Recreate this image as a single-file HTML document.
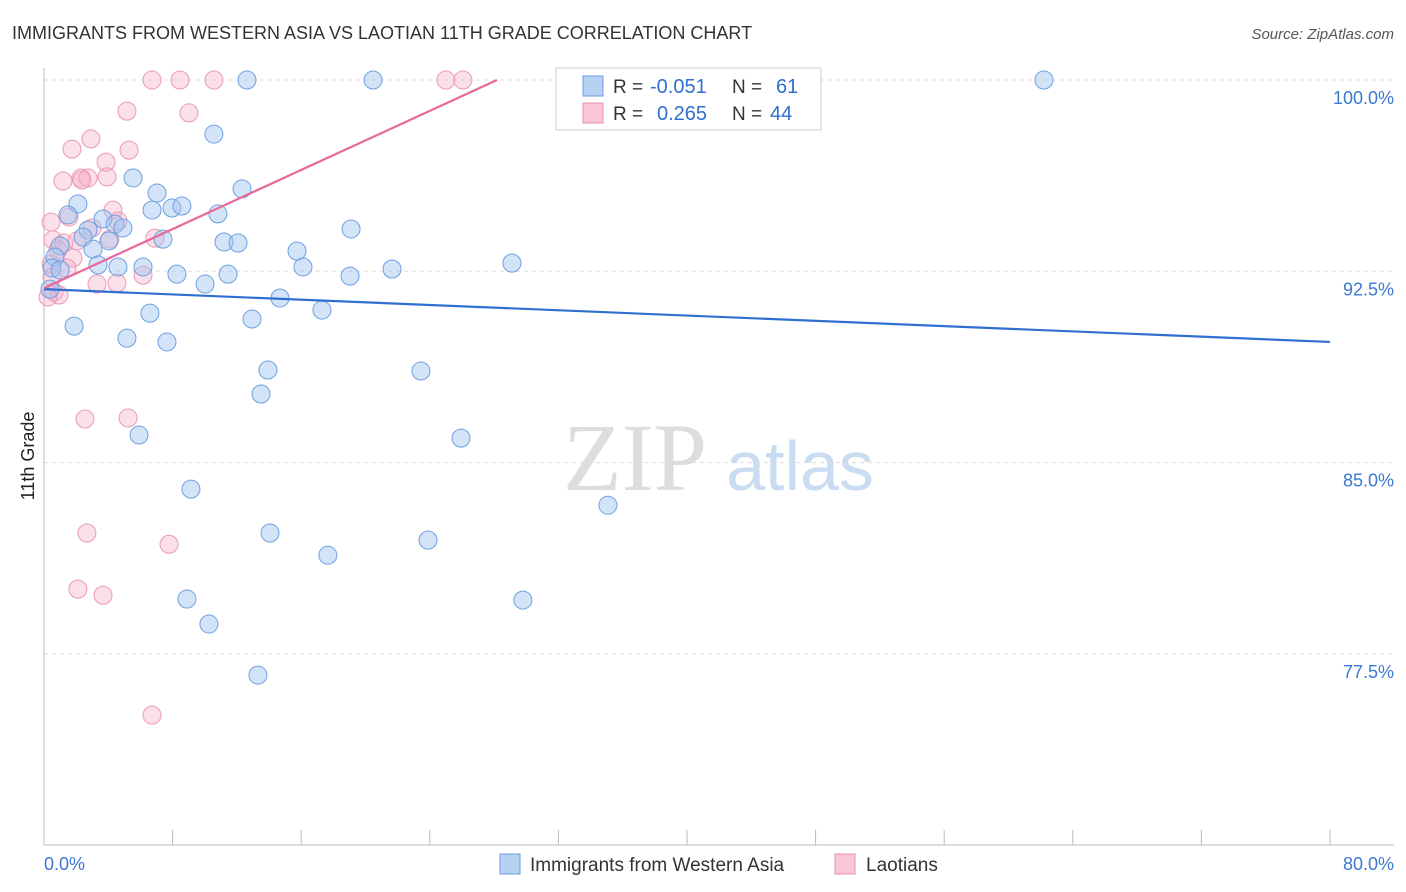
<!DOCTYPE html>
<html><head><meta charset="utf-8"><style>
body{margin:0;background:#fff;width:1406px;height:892px;overflow:hidden;font-family:"Liberation Sans",sans-serif}
svg{display:block}
</style></head><body>
<svg id="chart" width="1406" height="892">
<text x="12" y="39" font-size="18" fill="#333">IMMIGRANTS FROM WESTERN ASIA VS LAOTIAN 11TH GRADE CORRELATION CHART</text>
<text x="1394" y="39" font-size="15" fill="#555" font-style="italic" text-anchor="end">Source: ZipAtlas.com</text>
<text x="34" y="456" font-size="18" fill="#222" transform="rotate(-90 34 456)" text-anchor="middle">11th Grade</text>
<g>
<text x="635" y="490" font-size="96" font-family="Liberation Serif,serif" fill="#ddd" text-anchor="middle">ZIP</text>
<text x="800" y="490" font-size="70" fill="#c9dcf2" text-anchor="middle">atlas</text>
</g>
<g id="grid"></g><g id="axes"></g><g id="pts"></g><g id="trend"></g>
<g>
<rect x="556" y="68" width="265" height="62" fill="#fff" stroke="#ccc"/>
<rect x="583" y="76" width="20" height="20" fill="#b7d1f3" stroke="#6a9be0"/>
<rect x="583" y="103" width="20" height="20" fill="#f8c6d6" stroke="#e890ad"/>
<text x="613" y="93" font-size="19" fill="#333">R =</text>
<text x="650" y="93" font-size="20" fill="#2f6fd0">-0.051</text>
<text x="732" y="93" font-size="19" fill="#333">N =</text>
<text x="776" y="93" font-size="20" fill="#2f6fd0">61</text>
<text x="613" y="120" font-size="19" fill="#333">R =</text>
<text x="657" y="120" font-size="20" fill="#2f6fd0">0.265</text>
<text x="732" y="120" font-size="19" fill="#333">N =</text>
<text x="770" y="120" font-size="20" fill="#2f6fd0">44</text>
</g>
<g>
<rect x="500" y="854" width="20" height="20" fill="#b7d1f3" stroke="#6a9be0"/>
<text x="530" y="871" font-size="19" fill="#333">Immigrants from Western Asia</text>
<rect x="835" y="854" width="20" height="20" fill="#f8c6d6" stroke="#e890ad"/>
<text x="866" y="871" font-size="19" fill="#333">Laotians</text>
</g>
</svg>
<script>
const yTicks=[100,92.5,85,77.5];
const yTickLabels=["100.0%","92.5%","85.0%","77.5%"];
const blueX=[12.63,20.47,42.36,62.2,10.57,5.54,7.03,12.32,2.11,6.72,7.96,8.58,10.82,1.49,3.67,4.42,4.91,2.74,2.43,4.04,7.4,11.2,12.07,19.1,15.74,3.05,1.0,0.68,3.36,4.6,6.16,0.5,1.0,8.27,11.45,16.11,19.04,21.65,29.11,10.02,0.37,14.68,1.87,6.59,12.94,17.29,5.16,7.65,13.93,23.45,13.5,5.91,25.94,9.14,35.08,14.06,23.89,17.66,8.89,29.79,10.26,13.31];
const blueY=[100,100,100,100,97.88,96.16,95.57,95.73,95.14,94.9,94.98,95.06,94.75,94.71,94.55,94.35,94.2,94.12,93.84,93.69,93.76,93.65,93.61,94.16,93.29,93.37,93.49,93.06,92.75,92.67,92.67,92.63,92.55,92.39,92.39,92.67,92.31,92.59,92.82,92.0,91.8,91.45,90.35,90.86,90.63,90.98,89.88,89.73,88.63,88.59,87.69,86.08,85.96,83.96,83.33,82.24,81.96,81.37,79.65,79.61,78.67,76.67];
const pinkX=[6.72,8.46,10.57,25.0,26.06,5.16,9.02,2.92,1.74,5.29,3.86,1.18,2.3,2.74,3.92,2.36,4.29,1.56,4.6,0.44,2.99,4.1,6.9,0.56,1.24,2.05,0.87,1.8,0.44,1.43,0.5,6.16,3.3,4.54,0.62,0.93,0.25,2.55,5.23,2.67,7.78,2.11,3.67,6.72];
const pinkY=[100,100,100,100,100,98.78,98.71,97.69,97.29,97.25,96.78,96.04,96.16,96.16,96.2,96.08,94.9,94.63,94.47,94.43,94.2,93.76,93.8,93.73,93.61,93.69,93.33,93.02,92.78,92.63,92.27,92.35,92.0,92.04,91.69,91.57,91.49,86.71,86.75,82.24,81.8,80.04,79.8,75.1];
const blueTrend=[[0,91.8],[80,89.73]];
const pinkTrend=[[0,91.84],[28.18,100]];
const NS="http://www.w3.org/2000/svg";
const X=v=>44+v/80*1286, Y=v=>80+(100-v)/7.5*191.3;
function mk(t,a,p){const e=document.createElementNS(NS,t);for(const k in a)e.setAttribute(k,a[k]);p.appendChild(e);return e;}
const grid=document.getElementById('grid'),axes=document.getElementById('axes');
yTicks.forEach((t,i)=>{
 const l=mk('line',{x1:44,x2:1394,y1:Y(t),y2:Y(t),stroke:'#ddd','stroke-dasharray':'4,4'},grid);
 
 
 const tx=mk('text',{x:1394,y:Y(t)+24,'font-size':18,fill:'#3a78d4','text-anchor':'end'},axes);
 tx.textContent=yTickLabels[i];
 
 
});
mk('line',{x1:44,x2:44,y1:68,y2:845,stroke:'#bbb'},axes);
mk('line',{x1:44,x2:1394,y1:845,y2:845,stroke:'#bbb'},axes);
for(let k=1;k<=10;k++){const t=mk('line',{x1:X(k*8),x2:X(k*8),y1:830,y2:845,stroke:'#bbb'},axes);}
const x0=mk('text',{x:44,y:870,'font-size':18,fill:'#3a78d4'},axes);x0.textContent='0.0%';


const x1=mk('text',{x:1394,y:870,'font-size':18,fill:'#3a78d4','text-anchor':'end'},axes);x1.textContent='80.0%';


const pts=document.getElementById('pts');
pinkX.forEach((x,i)=>{const c=mk('circle',{cx:X(x),cy:Y(pinkY[i]),r:9,fill:'rgba(246,175,200,0.4)',stroke:'#eb9ab5','stroke-width':1},pts);
 
 });
blueX.forEach((x,i)=>{const c=mk('circle',{cx:X(x),cy:Y(blueY[i]),r:9,fill:'rgba(160,196,240,0.45)',stroke:'#6f9fe0','stroke-width':1},pts);
 
 });
const tr=document.getElementById('trend');
const bl=mk('line',{x1:X(blueTrend[0][0]),y1:Y(blueTrend[0][1]),x2:X(blueTrend[1][0]),y2:Y(blueTrend[1][1]),stroke:'#2f6fd0','stroke-width':2.2},tr);


const pl=mk('line',{x1:X(pinkTrend[0][0]),y1:Y(pinkTrend[0][1]),x2:X(pinkTrend[1][0]),y2:Y(pinkTrend[1][1]),stroke:'#e8689a','stroke-width':2.2},tr);


</script>
</body></html>
